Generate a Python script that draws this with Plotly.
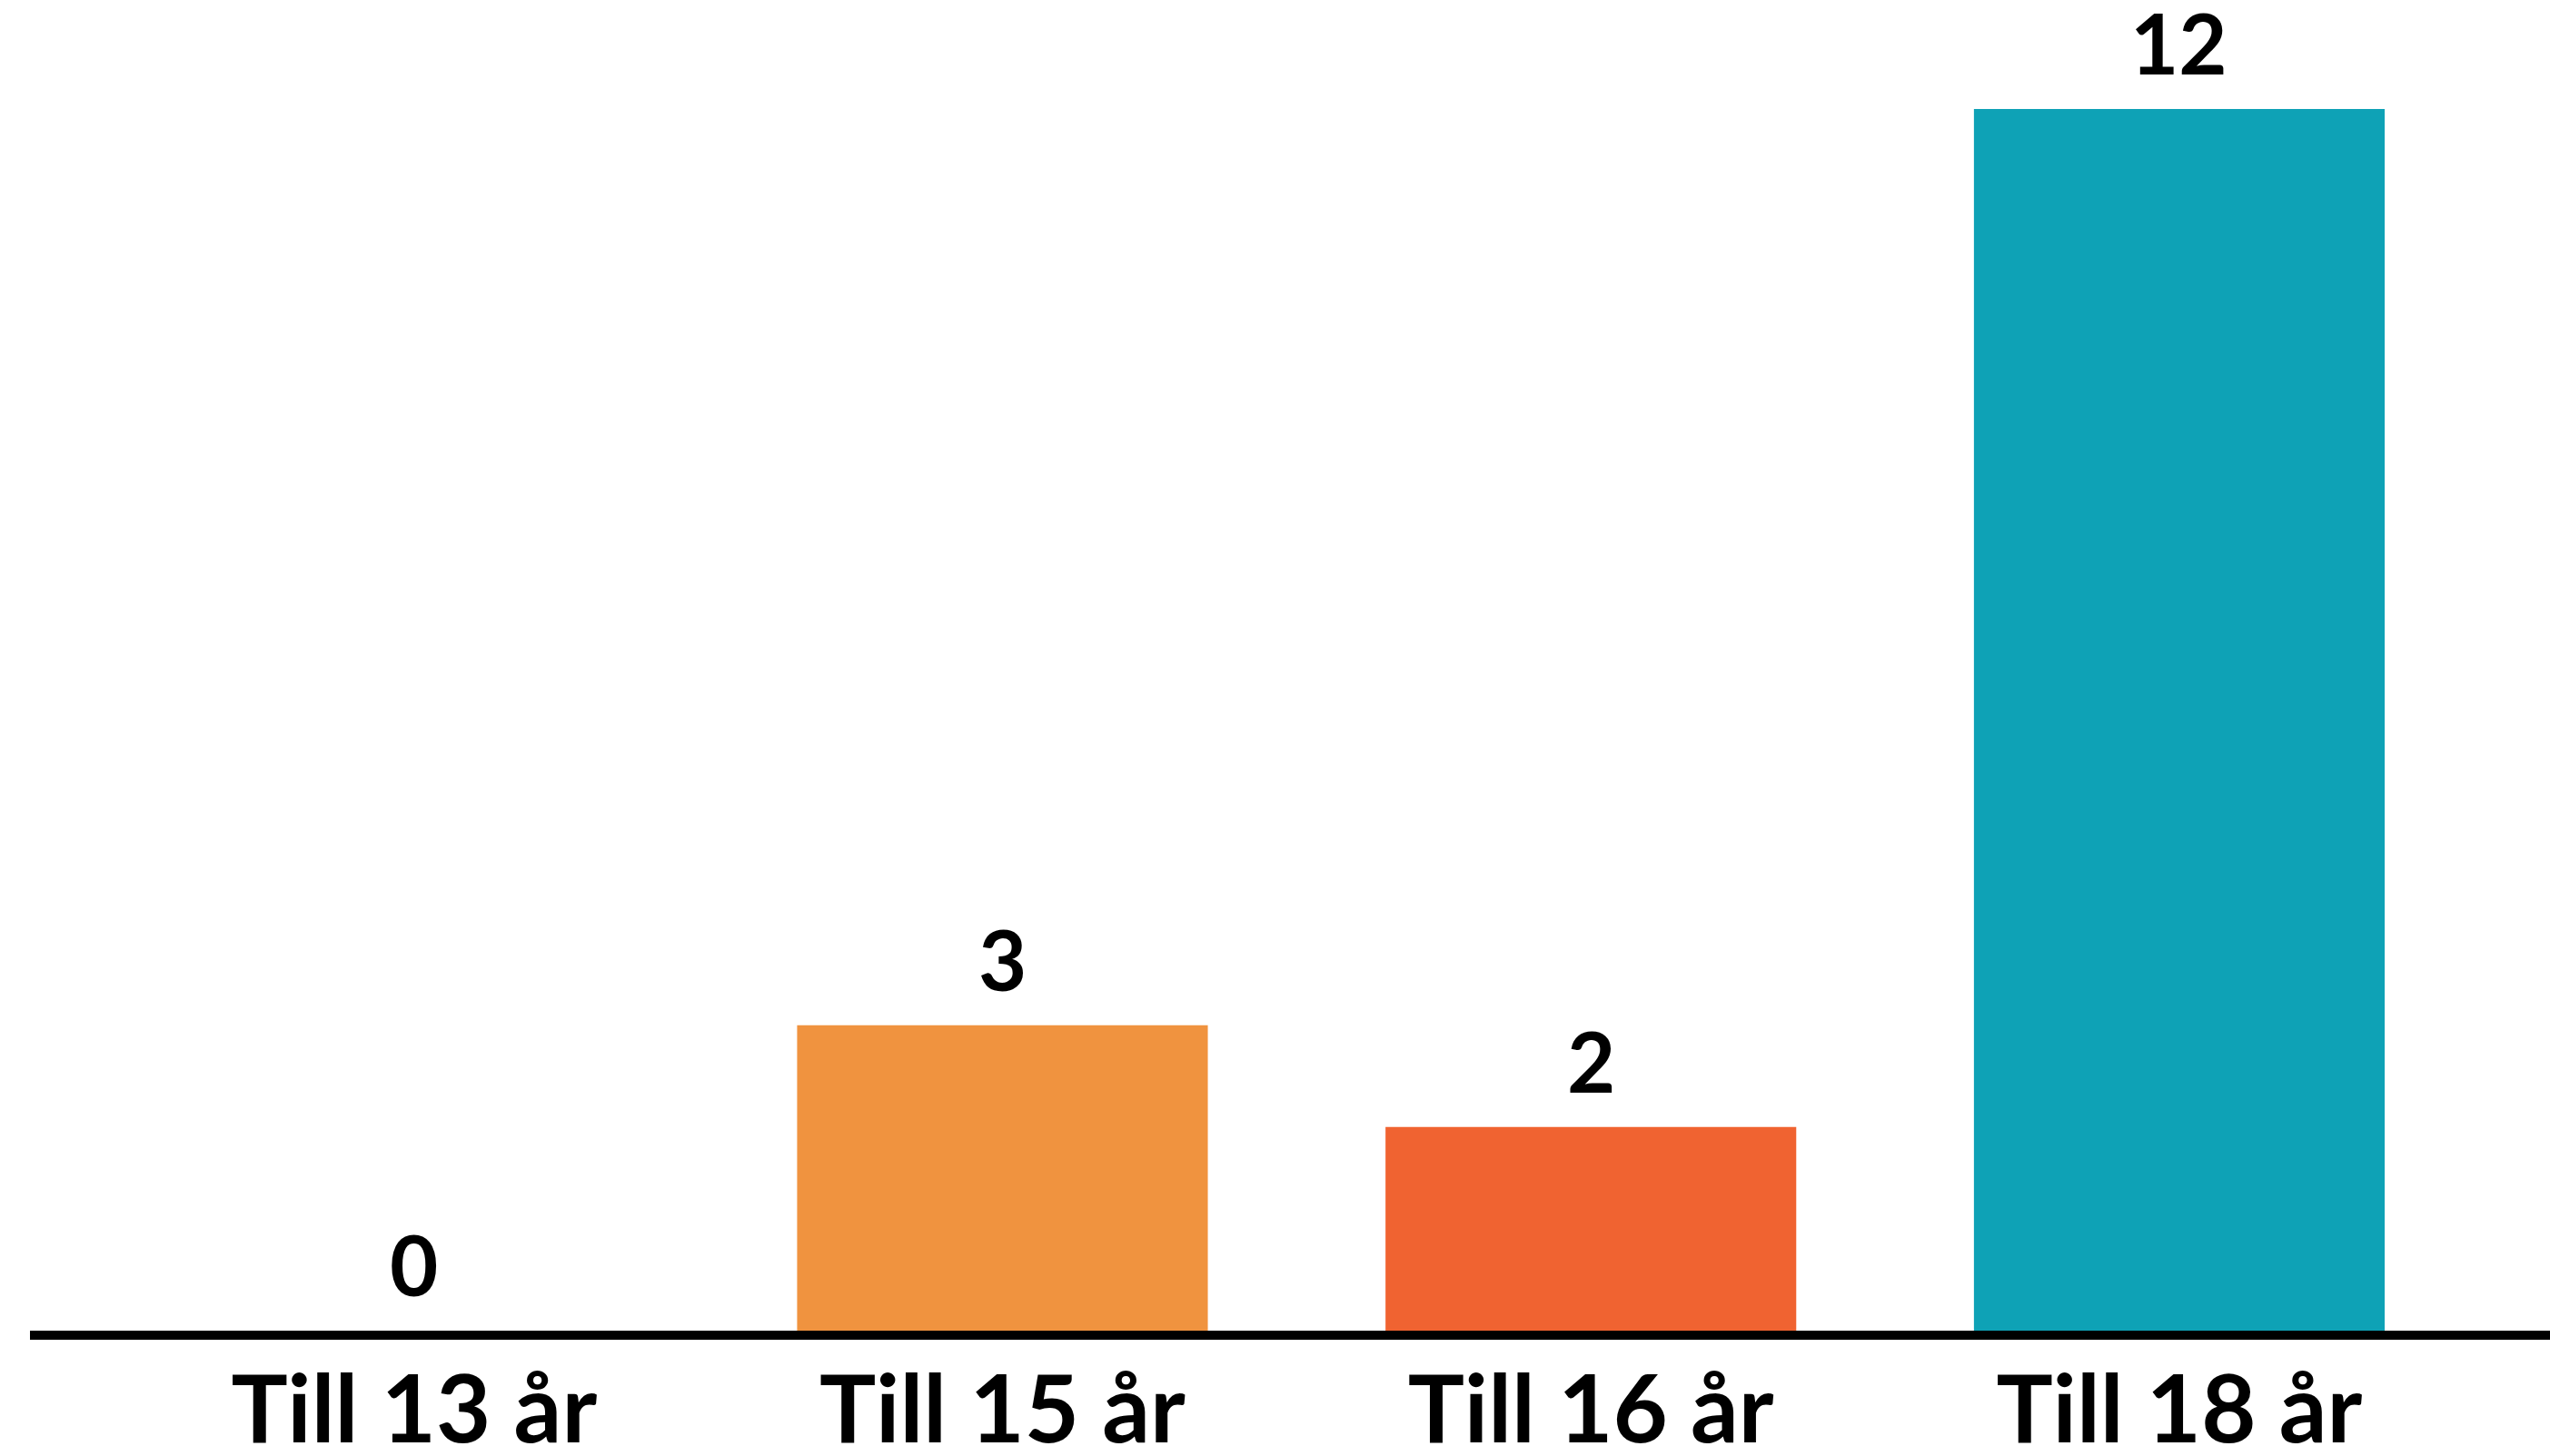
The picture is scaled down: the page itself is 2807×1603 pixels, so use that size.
import plotly.graph_objects as go

categories = ["Till 13 år", "Till 15 år", "Till 16 år", "Till 18 år"]
values = [0, 3, 2, 12]
colors = ["#F6C344", "#F0933F", "#F06331", "#0EA2B6"]

W, H = 2807, 1603
FONT = "Lato"

fig = go.Figure()
fig.add_trace(go.Bar(
    x=categories, y=values,
    marker=dict(color=colors, line=dict(width=0)),
    width=0.698,
    hoverinfo="skip",
    cliponaxis=False,
))

for c, v in zip(categories, values):
    fig.add_annotation(
        x=c, y=v, text=str(v), showarrow=False,
        yanchor="bottom", xanchor="center", yshift=16,
        font=dict(family=FONT, size=92, color="#000000", weight="bold"),
    )

fig.update_layout(
    width=W, height=H,
    margin=dict(l=33, r=0, t=0, b=138, autoexpand=False),
    paper_bgcolor="white", plot_bgcolor="white",
    showlegend=False,
    xaxis=dict(
        range=[-0.6527, 3.63],
        showline=True, linecolor="#000000", linewidth=10,
        showgrid=False, zeroline=False, ticks="",
        tickfont=dict(family=FONT, size=104, color="#000000", weight="bold"),
        ticklabelstandoff=-12,
        automargin=False,
        fixedrange=True,
    ),
    yaxis=dict(
        range=[0, 1465 / 112.08],
        visible=False, showgrid=False, zeroline=False,
        automargin=False,
        fixedrange=True,
    ),
)

fig.write_html("out.html", config={"displayModeBar": False})
